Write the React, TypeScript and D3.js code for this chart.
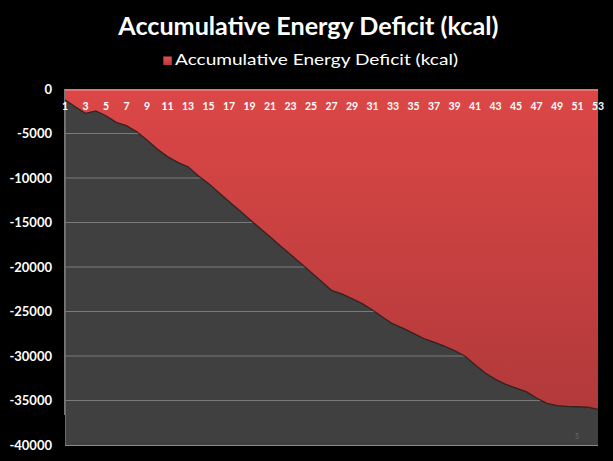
import React from "react";
import * as d3 from "d3";

const title = "Accumulative Energy Deficit (kcal)";
const seriesName = "Accumulative Energy Deficit (kcal)";

const weeks = [
  1, 2, 3, 4, 5, 6, 7, 8, 9, 10, 11, 12, 13, 14, 15, 16, 17, 18, 19, 20, 21, 22, 23, 24, 25, 26, 27,
  28, 29, 30, 31, 32, 33, 34, 35, 36, 37, 38, 39, 40, 41, 42, 43, 44, 45, 46, 47, 48, 49, 50, 51, 52, 53,
];

const deficit = [
  -1200, -1990, -2730, -2470, -3000, -3750, -4120, -4800, -5730, -6740, -7600, -8240, -8730, -9750,
  -10630, -11630, -12630, -13630, -14630, -15620, -16610, -17600, -18600, -19590, -20580, -21600,
  -22620, -23030, -23560, -24120, -24830, -25650, -26400, -26900, -27450, -28050, -28430, -28880,
  -29400, -30000, -30970, -31910, -32620, -33190, -33600, -34010, -34720, -35320, -35580, -35660,
  -35700, -35740, -36000,
];

const yTicks = [0, -5000, -10000, -15000, -20000, -25000, -30000, -35000, -40000];
const xTickLabels = weeks.filter((w) => w % 2 === 1);

const W = 613;
const H = 461;
const FONT = "Lato, 'Open Sans', sans-serif";

export default function App() {
  const x = d3.scaleLinear().domain([1, 53]).range([65, 598]);
  const y = d3.scaleLinear().domain([-40000, 0]).range([445, 89]);

  const pts = weeks.map((w, i) => ({ w, v: deficit[i] }));
  const area = d3
    .area<{ w: number; v: number }>()
    .x((d) => x(d.w))
    .y0(y(0))
    .y1((d) => y(d.v));
  const edge = d3
    .line<{ w: number; v: number }>()
    .x((d) => x(d.w))
    .y((d) => y(d.v));

  const [x0, x1] = x.range();
  const yTop = y(0);
  const yBottom = y(-40000);

  return (
    <svg
      width={W}
      height={H}
      style={{ position: "fixed", left: 0, top: 0, display: "block", background: "#000" }}
    >
      <defs>
        <linearGradient id="redFill" gradientUnits="userSpaceOnUse" x1="0" y1={yTop} x2="0" y2={y(-36000)}>
          <stop offset="0" stopColor="#dc4747" />
          <stop offset="1" stopColor="#b2393a" />
        </linearGradient>
        <linearGradient id="swatch" x1="0" y1="0" x2="0" y2="1">
          <stop offset="0" stopColor="#e25050" />
          <stop offset="1" stopColor="#b63a3a" />
        </linearGradient>
      </defs>
      <rect x={0} y={0} width={W} height={H} fill="#000" />

      {/* title */}
      <text
        x={118.3}
        y={35}
        fill="#fff"
        fontFamily={FONT}
        fontWeight={700}
        fontSize={24}
        textLength={380}
        lengthAdjust="spacingAndGlyphs"
      >
        {title}
      </text>

      {/* legend */}
      <rect x={163.3} y={56.5} width={8.5} height={8.5} fill="url(#swatch)" />
      <text
        x={175}
        y={65}
        fill="#fff"
        fontFamily={FONT}
        fontSize={16}
        textLength={283}
        lengthAdjust="spacingAndGlyphs"
      >
        {seriesName}
      </text>

      {/* plot area */}
      <rect x={x0} y={yTop} width={x1 - x0} height={yBottom - yTop} fill="#404040" />
      <line x1={x0} x2={x1} y1={yBottom + 0.5} y2={yBottom + 0.5} stroke="#8a8a8a" strokeWidth={1} />
      <line x1={x0 + 0.5} x2={x0 + 0.5} y1={yTop} y2={yBottom} stroke="#6a6a6a" strokeWidth={1} />
      <line x1={x0 - 0.5} x2={x0 - 0.5} y1={yTop} y2={415} stroke="#777" strokeWidth={1} />

      {/* gridlines */}
      {yTicks
        .filter((t) => t !== 0 && t !== -40000)
        .map((t) => (
          <line key={t} x1={x0} x2={x1} y1={y(t)} y2={y(t)} stroke="#7a7a7a" strokeWidth={1.2} />
        ))}

      {/* area */}
      <path d={area(pts) ?? ""} fill="url(#redFill)" />
      <path d={edge(pts) ?? ""} fill="none" stroke="#2a1c1c" strokeWidth={1.3} strokeOpacity={0.85} />
      <line x1={x0} x2={x1} y1={yTop + 1} y2={yTop + 1} stroke="#ec7070" strokeWidth={2} />

      {/* y axis labels */}
      {yTicks.map((t) => (
        <text
          key={t}
          x={52}
          y={y(t)}
          dy="0.36em"
          textAnchor="end"
          fill="#fff"
          fontFamily={FONT}
          fontWeight={700}
          fontSize={13}
        >
          {t}
        </text>
      ))}

      {/* x axis labels */}
      {xTickLabels.map((w) => (
        <text
          key={w}
          x={x(w)}
          y={106}
          dy="0.36em"
          textAnchor="middle"
          fill="#fff"
          fontFamily={FONT}
          fontWeight={700}
          fontSize={10.5}
        >
          {w}
        </text>
      ))}

      <text x={575} y={439} fill="#6a6a6a" fontFamily={FONT} fontSize={7}>
        5
      </text>
    </svg>
  );
}
